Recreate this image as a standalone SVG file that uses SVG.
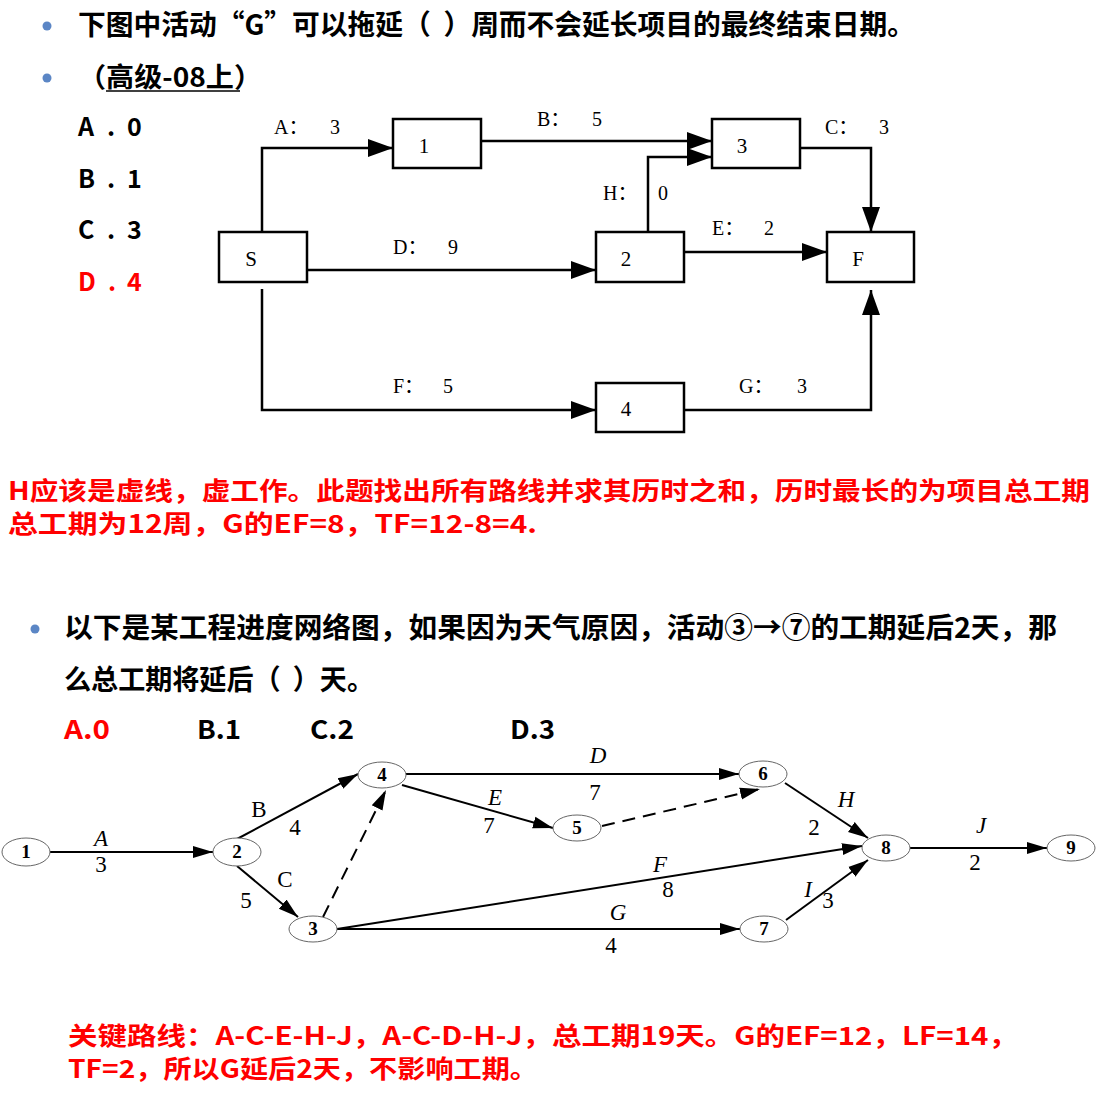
<svg xmlns="http://www.w3.org/2000/svg" width="1108" height="1120" viewBox="0 0 1108 1120">
<style>
.cjk{font-family:"Noto Sans CJK SC","Noto Sans",sans-serif;font-weight:bold;}
.blk{fill:#000;}
.red{fill:#FF0000;}
.bul{fill:#5B86C5;}
.box{fill:#fff;stroke:#000;stroke-width:2.5;}
.bl{font-family:"Liberation Serif","Noto Sans CJK SC",serif;font-size:21px;text-anchor:middle;fill:#000;}
.el{font-family:"Liberation Serif","Noto Sans CJK SC",serif;font-size:20px;fill:#000;}
.tc{fill:none;stroke:#000;stroke-width:2.5;marker-end:url(#ah1);}
.bc{fill:none;stroke:#000;stroke-width:2;marker-end:url(#ah2);}
.dash{stroke-dasharray:13,8;}
.nd{fill:#fff;stroke:#666;stroke-width:1;}
.nl{font-family:"Liberation Serif",serif;font-weight:bold;font-size:19px;text-anchor:middle;fill:#000;}
.lb{font-family:"Liberation Serif",serif;font-size:23px;text-anchor:middle;fill:#000;}
.it{font-style:italic;}
.opt{font-family:"Noto Sans CJK SC","Noto Sans",sans-serif;font-weight:bold;font-size:25px;}
</style>
<defs>
<marker id="ah1" markerUnits="userSpaceOnUse" markerWidth="26" markerHeight="20" refX="25" refY="10" orient="auto"><path d="M0,1 L25,10 L0,19 z" fill="#000"/></marker>
<marker id="ah2" markerUnits="userSpaceOnUse" markerWidth="21" markerHeight="14" refX="20" refY="7" orient="auto"><path d="M0,1 L20,7 L0,13 z" fill="#000"/></marker>
</defs>
<rect width="1108" height="1120" fill="#fff"/>

<!-- Question 1 text -->
<g id="q1-text">
<circle class="bul" cx="47" cy="26" r="4.5"/>
<text class="cjk blk" x="78" y="35" font-size="28" textLength="837" lengthAdjust="spacingAndGlyphs" xml:space="preserve">下图中活动“G”可以拖延（  ）周而不会延长项目的最终结束日期。</text>
<circle class="bul" cx="47" cy="78" r="4.5"/>
<text class="cjk blk" x="78" y="87" font-size="27" textLength="184" lengthAdjust="spacingAndGlyphs">（高级-08上）</text>
<line x1="106" y1="91" x2="240" y2="91" stroke="#000" stroke-width="1.5"/>
<text class="opt blk" x="78" y="136">A<tspan x="107">.</tspan><tspan x="127">0</tspan></text>
<text class="opt blk" x="78" y="188">B<tspan x="107">.</tspan><tspan x="127">1</tspan></text>
<text class="opt blk" x="78" y="239">C<tspan x="107">.</tspan><tspan x="127">3</tspan></text>
<text class="opt red" x="78" y="291">D<tspan x="108">.</tspan><tspan x="127">4</tspan></text>
</g>

<!-- Top diagram connectors -->
<g id="top-connectors">
<path class="tc" d="M262,232 V148 H393"/>
<path class="tc" d="M481,141 H712"/>
<path class="tc" d="M648,232 V157 H712"/>
<path class="tc" d="M799,148 H871 V232"/>
<path class="tc" d="M307,270 H596"/>
<path class="tc" d="M684,252 H827"/>
<path class="tc" d="M262,289 V410 H596"/>
<path class="tc" d="M684,410 H871 V290"/>
<text class="el" x="274" y="134">A：<tspan x="330">3</tspan></text>
<text class="el" x="537" y="126">B：<tspan x="592">5</tspan></text>
<text class="el" x="825" y="134">C：<tspan x="879">3</tspan></text>
<text class="el" x="603" y="200">H：<tspan x="658">0</tspan></text>
<text class="el" x="712" y="235">E：<tspan x="764">2</tspan></text>
<text class="el" x="393" y="254">D：<tspan x="448">9</tspan></text>
<text class="el" x="393" y="393">F：<tspan x="443">5</tspan></text>
<text class="el" x="739" y="393">G：<tspan x="797">3</tspan></text>
</g>

<!-- Top diagram nodes -->
<g id="top-S"><rect class="box" x="219" y="232" width="88" height="50"/><text class="bl" x="251" y="266">S</text></g>
<g id="top-1"><rect class="box" x="393" y="119" width="88" height="49"/><text class="bl" x="424" y="153">1</text></g>
<g id="top-3"><rect class="box" x="712" y="119" width="88" height="49"/><text class="bl" x="742" y="153">3</text></g>
<g id="top-2"><rect class="box" x="596" y="232" width="88" height="50"/><text class="bl" x="626" y="266">2</text></g>
<g id="top-F"><rect class="box" x="827" y="232" width="87" height="50"/><text class="bl" x="858" y="266">F</text></g>
<g id="top-4"><rect class="box" x="596" y="383" width="88" height="49"/><text class="bl" x="626" y="416">4</text></g>

<!-- Answer 1 -->
<g id="answer1">
<text class="cjk red" x="8" y="500" font-size="25" textLength="1082" lengthAdjust="spacingAndGlyphs">H应该是虚线，虚工作。此题找出所有路线并求其历时之和，历时最长的为项目总工期</text>
<text class="cjk red" x="8" y="533" font-size="25" textLength="529" lengthAdjust="spacingAndGlyphs">总工期为12周，G的EF=8，TF=12-8=4.</text>
</g>

<!-- Question 2 text -->
<g id="q2-text">
<circle class="bul" cx="35" cy="629" r="4.5"/>
<text class="cjk blk" x="64" y="638" font-size="28" textLength="993" lengthAdjust="spacingAndGlyphs">以下是某工程进度网络图，如果因为天气原因，活动③→⑦的工期延后2天，那</text>
<text class="cjk blk" x="64" y="690" font-size="28" textLength="310" lengthAdjust="spacingAndGlyphs" xml:space="preserve">么总工期将延后（  ）天。</text>
<text class="cjk red" x="64" y="739" font-size="26" textLength="46" lengthAdjust="spacingAndGlyphs">A.0</text>
<text class="cjk blk" x="197" y="739" font-size="26" textLength="44" lengthAdjust="spacingAndGlyphs">B.1</text>
<text class="cjk blk" x="310" y="739" font-size="26" textLength="44" lengthAdjust="spacingAndGlyphs">C.2</text>
<text class="cjk blk" x="510" y="739" font-size="26" textLength="45" lengthAdjust="spacingAndGlyphs">D.3</text>
</g>

<!-- Bottom network connectors -->
<g id="bottom-connectors">
<line class="bc" x1="50" y1="852" x2="213" y2="852"/>
<line class="bc" x1="237" y1="839" x2="358" y2="774"/>
<line class="bc" x1="237" y1="866" x2="298" y2="917"/>
<line class="bc dash" x1="323" y1="917" x2="386" y2="790"/>
<line class="bc" x1="406" y1="774" x2="739" y2="774"/>
<line class="bc" x1="402" y1="785" x2="553" y2="828"/>
<line class="bc dash" x1="602" y1="826" x2="760" y2="789"/>
<line class="bc" x1="785" y1="783" x2="868" y2="838"/>
<line class="bc" x1="337" y1="929" x2="862" y2="846"/>
<line class="bc" x1="337" y1="929" x2="740" y2="929"/>
<line class="bc" x1="786" y1="920" x2="868" y2="860"/>
<line class="bc" x1="910" y1="848" x2="1047" y2="848"/>
<text class="lb it" x="101" y="846">A</text><text class="lb" x="101" y="872">3</text>
<text class="lb" x="259" y="817">B</text><text class="lb" x="295" y="835">4</text>
<text class="lb" x="285" y="887">C</text><text class="lb" x="246" y="908">5</text>
<text class="lb it" x="598" y="763">D</text><text class="lb" x="595" y="800">7</text>
<text class="lb it" x="495" y="805">E</text><text class="lb" x="489" y="833">7</text>
<text class="lb it" x="846" y="807">H</text><text class="lb" x="814" y="835">2</text>
<text class="lb it" x="660" y="872">F</text><text class="lb" x="668" y="897">8</text>
<text class="lb it" x="618" y="920">G</text><text class="lb" x="611" y="953">4</text>
<text class="lb it" x="808" y="897">I</text><text class="lb" x="828" y="908">3</text>
<text class="lb it" x="981" y="833">J</text><text class="lb" x="975" y="870">2</text>
</g>

<!-- Bottom network nodes -->
<g id="n1"><ellipse class="nd" cx="26" cy="852" rx="24" ry="14"/><text class="nl" x="26" y="858">1</text></g>
<g id="n2"><ellipse class="nd" cx="237" cy="852" rx="24" ry="14"/><text class="nl" x="237" y="858">2</text></g>
<g id="n3"><ellipse class="nd" cx="313" cy="929" rx="24" ry="13"/><text class="nl" x="313" y="935">3</text></g>
<g id="n4"><ellipse class="nd" cx="382" cy="775" rx="24" ry="13"/><text class="nl" x="382" y="781">4</text></g>
<g id="n5"><ellipse class="nd" cx="577" cy="828" rx="24" ry="13"/><text class="nl" x="577" y="834">5</text></g>
<g id="n6"><ellipse class="nd" cx="763" cy="774" rx="24" ry="13"/><text class="nl" x="763" y="780">6</text></g>
<g id="n7"><ellipse class="nd" cx="764" cy="929" rx="24" ry="13"/><text class="nl" x="764" y="935">7</text></g>
<g id="n8"><ellipse class="nd" cx="886" cy="848" rx="24" ry="13"/><text class="nl" x="886" y="854">8</text></g>
<g id="n9"><ellipse class="nd" cx="1071" cy="848" rx="24" ry="13"/><text class="nl" x="1071" y="854">9</text></g>

<!-- Answer 2 -->
<g id="answer2">
<text class="cjk red" x="68" y="1045" font-size="25" textLength="950" lengthAdjust="spacingAndGlyphs">关键路线：A-C-E-H-J，A-C-D-H-J，总工期19天。G的EF=12，LF=14，</text>
<text class="cjk red" x="68" y="1078" font-size="25" textLength="470" lengthAdjust="spacingAndGlyphs">TF=2，所以G延后2天，不影响工期。</text>
</g>
</svg>
